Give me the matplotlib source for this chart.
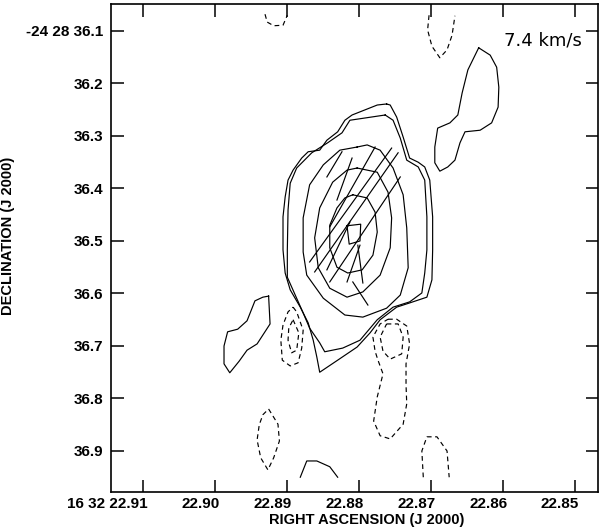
import numpy as np
import matplotlib
matplotlib.use("Agg")
import matplotlib.pyplot as plt
from matplotlib.transforms import ScaledTranslation

c1 = [(22.8762,36.239),(22.8757,36.241),(22.8748,36.264),(22.8739,36.302),(22.8730,36.342),
      (22.8718,36.350),(22.8709,36.359),(22.8702,36.384),(22.8698,36.454),(22.8698,36.517),
      (22.8699,36.574),(22.8706,36.607),(22.8730,36.618),(22.8748,36.626),(22.8771,36.650),
      (22.8785,36.675),(22.8803,36.702),(22.8830,36.727),(22.8855,36.750),(22.8859,36.721),
      (22.8864,36.689),(22.8871,36.656),(22.8882,36.626),(22.8896,36.593),(22.8903,36.561),
      (22.8906,36.517),(22.8906,36.454),(22.8903,36.416),(22.8899,36.384),(22.8892,36.365),
      (22.8880,36.342),(22.8871,36.330),(22.8855,36.327),(22.8845,36.308),(22.8830,36.292),
      (22.8820,36.270),(22.8810,36.260),(22.8775,36.241),(22.8762,36.239)]
c2 = [(22.8764,36.260),(22.8753,36.270),(22.8743,36.304),(22.8734,36.346),(22.8718,36.359),
      (22.8709,36.384),(22.8706,36.454),(22.8706,36.517),(22.8709,36.561),(22.8713,36.599),
      (22.8730,36.616),(22.8753,36.626),(22.8775,36.650),(22.8799,36.689),(22.8823,36.704),
      (22.8848,36.711),(22.8855,36.694),(22.8869,36.666),(22.8878,36.637),(22.8889,36.603),
      (22.8900,36.569),(22.8900,36.517),(22.8899,36.441),(22.8896,36.390),(22.8887,36.361),
      (22.8866,36.332),(22.8844,36.313),(22.8824,36.294),(22.8813,36.270),(22.8764,36.260)]
c3 = [(22.8803,36.321),(22.8789,36.317),(22.8771,36.327),(22.8753,36.361),(22.8739,36.412),
      (22.8734,36.475),(22.8732,36.551),(22.8743,36.603),(22.8762,36.628),(22.8795,36.645),
      (22.8820,36.641),(22.8850,36.609),(22.8873,36.565),(22.8878,36.521),(22.8878,36.456),
      (22.8869,36.393),(22.8850,36.355),(22.8827,36.327),(22.8803,36.321)]
c4 = [(22.8803,36.361),(22.8775,36.369),(22.8760,36.407),(22.8755,36.456),(22.8757,36.513),
      (22.8771,36.565),(22.8795,36.597),(22.8817,36.607),(22.8841,36.590),(22.8857,36.551),
      (22.8862,36.494),(22.8855,36.437),(22.8837,36.388),(22.8817,36.365),(22.8803,36.361)]
c5 = [(22.8809,36.412),(22.8789,36.418),(22.8778,36.445),(22.8775,36.483),(22.8781,36.527),
      (22.8796,36.555),(22.8816,36.561),(22.8831,36.550),(22.8841,36.513),(22.8841,36.470),
      (22.8831,36.437),(22.8820,36.418),(22.8809,36.412)]
peak = [(22.8817,36.471),(22.8798,36.468),(22.8799,36.500),(22.8814,36.506),(22.8817,36.471)]
blob_ne = [(22.8634,36.132),(22.8618,36.146),(22.8609,36.169),(22.8606,36.207),(22.8607,36.245),
           (22.8616,36.275),(22.8632,36.289),(22.8653,36.292),(22.8660,36.313),(22.8667,36.346),
           (22.8677,36.359),(22.8688,36.367),(22.8695,36.351),(22.8695,36.321),(22.8691,36.285),
           (22.8674,36.275),(22.8663,36.260),(22.8657,36.218),(22.8649,36.174),(22.8634,36.132)]
blob_w = [(22.8926,36.605),(22.8924,36.658),(22.8942,36.696),(22.8956,36.708),(22.8967,36.729),
          (22.8980,36.751),(22.8988,36.734),(22.8988,36.700),(22.8983,36.673),(22.8969,36.668),
          (22.8956,36.652),(22.8945,36.614),(22.8934,36.607),(22.8926,36.605)]
arc_s = [(22.8882,36.950),(22.8873,36.919),(22.8859,36.919),(22.8841,36.930),(22.8830,36.950)]
pos_contours = [c1, c2, c3, c4, c5, peak, blob_ne, blob_w, arc_s]

# negative contours
neg_nw = [(22.8931,36.068),(22.8928,36.083),(22.8919,36.090),(22.8906,36.089),(22.8900,36.070)]
neg_n = [(22.8703,36.070),(22.8705,36.098),(22.8699,36.129),(22.8688,36.151),(22.8678,36.136),
         (22.8671,36.108),(22.8667,36.071)]
neg_w1 = [(22.8892,36.626),(22.8887,36.635),(22.8878,36.670),(22.8880,36.704),(22.8885,36.732),
          (22.8896,36.738),(22.8907,36.727),(22.8909,36.689),(22.8906,36.660),(22.8899,36.635),
          (22.8892,36.626)]
neg_w2 = [(22.8892,36.650),(22.8884,36.675),(22.8887,36.708),(22.8894,36.713),(22.8899,36.689),
          (22.8898,36.666),(22.8892,36.650)]
neg_e1 = [(22.8760,36.649),(22.8748,36.649),(22.8734,36.662),(22.8730,36.696),(22.8735,36.734),
          (22.8735,36.774),(22.8734,36.810),(22.8739,36.849),(22.8757,36.877),(22.8771,36.871),
          (22.8780,36.843),(22.8775,36.797),(22.8767,36.753),(22.8774,36.727),(22.8778,36.710),
          (22.8781,36.683),(22.8771,36.658),(22.8760,36.649)]
neg_e2 = [(22.8762,36.658),(22.8746,36.658),(22.8739,36.683),(22.8741,36.715),(22.8757,36.725),
          (22.8767,36.710),(22.8771,36.683),(22.8762,36.658)]
neg_sw = [(22.8926,36.820),(22.8913,36.849),(22.8911,36.881),(22.8919,36.913),(22.8927,36.936),
          (22.8937,36.913),(22.8942,36.879),(22.8939,36.850),(22.8934,36.831),(22.8926,36.820)]
neg_se = [(22.8711,36.950),(22.8713,36.900),(22.8706,36.873),(22.8692,36.873),(22.8678,36.900),
          (22.8675,36.950)]
neg_contours = [neg_nw, neg_n, neg_w1, neg_w2, neg_e1, neg_e2, neg_sw, neg_se]

# polarization vectors: (ra0, dec0, ra1, dec1)
vectors = [(22.8824,36.330,22.8845,36.378),
           (22.8778,36.321,22.8841,36.473),
           (22.8755,36.323,22.8869,36.540),
           (22.8746,36.332,22.8862,36.559),
           (22.8743,36.378,22.8841,36.578),
           (22.8810,36.342,22.8831,36.422),
           (22.8802,36.508,22.8795,36.580),
           (22.8799,36.508,22.8817,36.578),
           (22.8809,36.578,22.8788,36.622),
           (22.8813,36.464,22.8845,36.555)]

ra_ticks = [22.91, 22.90, 22.89, 22.88, 22.87, 22.86, 22.85]
ra_labels = ['16 32 22.91', '22.90', '22.89', '22.88', '22.87', '22.86', '22.85']
dec_ticks = [36.1, 36.2, 36.3, 36.4, 36.5, 36.6, 36.7, 36.8, 36.9]
dec_labels = ['-24 28 36.1', '36.2', '36.3', '36.4', '36.5', '36.6', '36.7', '36.8', '36.9']
velocity = '7.4 km/s'

fig = plt.figure(figsize=(6.0, 5.28), dpi=100)
ax = fig.add_axes([0.185, 0.0688, 0.811, 0.9236])

for c in pos_contours:
    c = np.array(c)
    ax.plot(c[:, 0], c[:, 1], color='black', lw=0.85)
for c in neg_contours:
    c = np.array(c)
    ax.plot(c[:, 0], c[:, 1], color='black', lw=0.85, ls=(0, (4, 3)))
for r0, d0, r1, d1 in vectors:
    ax.plot([r0, r1], [d0, d1], color='black', lw=0.85)

ax.set_xlim(22.91451, 22.84687)
ax.set_ylim(36.9775, 36.0486)

tfont = dict(family=['Liberation Sans', 'DejaVu Sans'], weight='bold', size=11)
ax.set_xticks(ra_ticks)
ax.set_xticklabels(ra_labels, **tfont)
ax.set_yticks(dec_ticks)
ax.set_yticklabels(dec_labels, **tfont)
ax.tick_params(direction='in', length=9, width=1.1, top=True, right=True,
               color='black')
ax.tick_params(axis='x', pad=4)
ax.tick_params(axis='y', pad=5.5)
for lab in ax.get_xticklabels():
    lab.set_ha('right')
    lab.set_transform(lab.get_transform() + ScaledTranslation(4 / 100, 0, fig.dpi_scale_trans))
for sp in ax.spines.values():
    sp.set_linewidth(1.2)

lfont = dict(family=['Liberation Sans', 'DejaVu Sans'], weight='bold', size=10.5)
ax.set_xlabel('RIGHT ASCENSION (J 2000)', **lfont)
ax.set_ylabel('DECLINATION (J 2000)', **lfont)
ax.xaxis.set_label_coords(0.525, -0.043)
ax.yaxis.set_label_coords(-0.197, 0.524)

ax.text(0.967, 0.926, velocity, transform=ax.transAxes, ha='right', va='center',
        fontsize=13, family='DejaVu Sans')

fig.savefig('out.png', dpi=100)
